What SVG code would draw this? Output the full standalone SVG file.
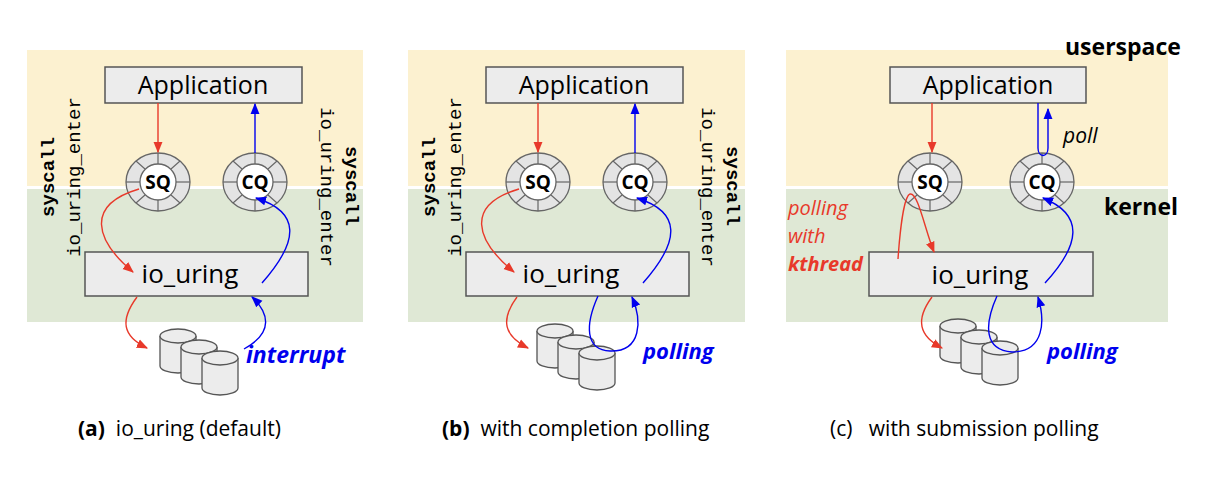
<svg xmlns="http://www.w3.org/2000/svg" xmlns:xlink="http://www.w3.org/1999/xlink" width="1208" height="482" viewBox="0 0 1208 482">
<style>
.box{fill:#ececec;stroke:#555;stroke-width:1.5}
.t{font-family:"Open Sans","Liberation Sans",sans-serif;fill:#000}
.mono{font-family:"Liberation Mono","DejaVu Sans Mono",monospace;font-size:19px}
.r{fill:none;stroke:#e8392a;stroke-width:1.4}
.b{fill:none;stroke:#0000ee;stroke-width:1.4}
.cap{font-family:"Open Sans","Liberation Sans",sans-serif;font-size:21px}
</style>
<defs>
<marker id="ar" viewBox="0 0 10 10" refX="9" refY="5" markerWidth="8" markerHeight="8" orient="auto-start-reverse"><path d="M0,1 L10,5 L0,9 z" fill="#e8392a"/></marker>
<marker id="ab" viewBox="0 0 10 10" refX="9" refY="5" markerWidth="8" markerHeight="8" orient="auto-start-reverse"><path d="M0,1 L10,5 L0,9 z" fill="#0000ee"/></marker>
<g id="ring">
<ellipse cx="0" cy="0" rx="32" ry="29" fill="#e4e4e4" stroke="#666" stroke-width="1.3"/>
<g stroke="#666" stroke-width="1.2">
<line x1="0" y1="-18" x2="0" y2="-29"/><line x1="0" y1="18" x2="0" y2="29"/>
<line x1="-18" y1="0" x2="-32" y2="0"/><line x1="18" y1="0" x2="32" y2="0"/>
<line x1="13" y1="-13" x2="22" y2="-21"/><line x1="-13" y1="-13" x2="-22" y2="-21"/>
<line x1="13" y1="13" x2="22" y2="21"/><line x1="-13" y1="13" x2="-22" y2="21"/>
</g>
<circle cx="0" cy="0" r="18" fill="#fff" stroke="#666" stroke-width="1.3"/>
</g>
<g id="cyl">
<path d="M-18,0 L-18,30 A18,7 0 0 0 18,30 L18,0" fill="#ececec" stroke="#555" stroke-width="1.3"/>
<ellipse cx="0" cy="0" rx="18" ry="7" fill="#ececec" stroke="#555" stroke-width="1.3"/>
</g>
<g id="disks">
<use xlink:href="#cyl" x="0" y="0"/><use xlink:href="#cyl" x="21" y="11"/><use xlink:href="#cyl" x="42" y="22"/>
</g>
</defs>

<g id="bands">
<rect x="27" y="50" width="336" height="136" fill="#fcf1d0"/>
<rect x="27" y="189" width="336" height="133" fill="#dfe8d5"/>
<rect x="408" y="50" width="337" height="136" fill="#fcf1d0"/>
<rect x="408" y="189" width="337" height="133" fill="#dfe8d5"/>
<rect x="786" y="50" width="382" height="136" fill="#fcf1d0"/>
<rect x="786" y="189" width="382" height="133" fill="#dfe8d5"/>
</g>

<!-- Panel a -->
<g id="a-app"><rect class="box" x="105" y="67" width="197" height="36"/><text class="t" x="203" y="94" font-size="25" text-anchor="middle">Application</text></g>
<g id="a-sq"><use xlink:href="#ring" x="158" y="182"/><text class="t" x="158" y="189" font-size="19" font-weight="bold" text-anchor="middle">SQ</text></g>
<g id="a-cq"><use xlink:href="#ring" x="255" y="182"/><text class="t" x="255" y="189" font-size="19" font-weight="bold" text-anchor="middle">CQ</text></g>
<g id="a-io"><rect class="box" x="85" y="252" width="223" height="44"/><text class="t" x="190" y="283" font-size="26" text-anchor="middle">io_uring</text></g>
<g id="a-disks"><use xlink:href="#disks" x="178" y="336"/></g>
<g id="a-labels">
<text class="mono" font-weight="bold" transform="translate(54,177) rotate(-90)" text-anchor="middle">syscall</text>
<text class="mono" transform="translate(80,177) rotate(-90)" text-anchor="middle">io_uring_enter</text>
<text class="mono" font-weight="bold" transform="translate(346,186) rotate(90)" text-anchor="middle">syscall</text>
<text class="mono" transform="translate(321,187) rotate(90)" text-anchor="middle">io_uring_enter</text>
<text class="t" x="246" y="363" font-size="23" font-weight="bold" font-style="italic" style="fill:#0000ee">interrupt</text>
</g>

<!-- Panel b -->
<g id="b-app"><rect class="box" x="486" y="67" width="197" height="36"/><text class="t" x="584" y="94" font-size="25" text-anchor="middle">Application</text></g>
<g id="b-sq"><use xlink:href="#ring" x="538" y="182"/><text class="t" x="538" y="189" font-size="19" font-weight="bold" text-anchor="middle">SQ</text></g>
<g id="b-cq"><use xlink:href="#ring" x="635" y="182"/><text class="t" x="635" y="189" font-size="19" font-weight="bold" text-anchor="middle">CQ</text></g>
<g id="b-io"><rect class="box" x="466" y="252" width="223" height="44"/><text class="t" x="571" y="283" font-size="26" text-anchor="middle">io_uring</text></g>
<g id="b-disks"><use xlink:href="#disks" x="555" y="331"/></g>
<g id="b-labels">
<text class="mono" font-weight="bold" transform="translate(435,177) rotate(-90)" text-anchor="middle">syscall</text>
<text class="mono" transform="translate(461,177) rotate(-90)" text-anchor="middle">io_uring_enter</text>
<text class="mono" font-weight="bold" transform="translate(727,186) rotate(90)" text-anchor="middle">syscall</text>
<text class="mono" transform="translate(702,187) rotate(90)" text-anchor="middle">io_uring_enter</text>
<text class="t" x="643" y="359" font-size="22" font-weight="bold" font-style="italic" style="fill:#0000ee">polling</text>
</g>

<!-- Panel c -->
<g id="c-app"><rect class="box" x="890" y="67" width="196" height="36"/><text class="t" x="988" y="94" font-size="25" text-anchor="middle">Application</text></g>
<g id="c-sq"><use xlink:href="#ring" x="930" y="182"/><text class="t" x="930" y="189" font-size="19" font-weight="bold" text-anchor="middle">SQ</text></g>
<g id="c-cq"><use xlink:href="#ring" x="1042" y="182"/><text class="t" x="1042" y="189" font-size="19" font-weight="bold" text-anchor="middle">CQ</text></g>
<g id="c-io"><rect class="box" x="869" y="252" width="224" height="44"/><text class="t" x="980" y="284" font-size="26" text-anchor="middle">io_uring</text></g>
<g id="c-disks"><use xlink:href="#disks" x="958" y="326"/></g>
<g id="c-labels">
<text class="t" x="1065" y="55" font-size="23" font-weight="bold">userspace</text>
<text class="t" x="1104" y="215" font-size="23" font-weight="bold">kernel</text>
<text class="t" x="1063" y="143" font-size="21" font-style="italic">poll</text>
<text class="t" x="788" y="215" font-size="20" font-style="italic" style="fill:#e8392a">polling</text>
<text class="t" x="788" y="243" font-size="20" font-style="italic" style="fill:#e8392a">with</text>
<text class="t" x="788" y="271" font-size="20" font-weight="bold" font-style="italic" style="fill:#e8392a">kthread</text>
<text class="t" x="1047" y="359" font-size="22" font-weight="bold" font-style="italic" style="fill:#0000ee">polling</text>
</g>

<g id="connectors">
<path class="r" d="M158,103 L158,152" marker-end="url(#ar)"/>
<path class="b" d="M255,153 L255,104" marker-end="url(#ab)"/>
<path class="r" d="M139,189 C85,205 95,240 133,272" marker-end="url(#ar)"/>
<path class="b" d="M262,283 C300,240 300,212 256,198" marker-end="url(#ab)"/>
<path class="r" d="M137,297 C120,320 122,336 147,348" marker-end="url(#ar)"/>
<path class="b" d="M244,349 C275,332 268,312 252,297" marker-end="url(#ab)"/>
<path class="r" d="M538,103 L538,152" marker-end="url(#ar)"/>
<path class="b" d="M635,153 L635,104" marker-end="url(#ab)"/>
<path class="r" d="M519,189 C465,205 475,240 514,272" marker-end="url(#ar)"/>
<path class="b" d="M643,283 C681,240 681,212 637,198" marker-end="url(#ab)"/>
<path class="r" d="M517,297 C500,320 504,336 528,348" marker-end="url(#ar)"/>
<path class="b" d="M598,296 C585,325 585,350 610,351 C642,352 642,320 632,297" marker-end="url(#ab)"/>
<path class="r" d="M932,103 L932,152" marker-end="url(#ar)"/>
<path class="b" d="M1038,103 L1038,148 C1038,158 1048,158 1048,148 L1048,109" marker-end="url(#ab)"/>
<path class="r" d="M898,259 C900,230 904,196 910,194 C918,192 925,230 934,252" marker-end="url(#ar)"/>
<path class="b" d="M1045,283 C1080,245 1085,215 1043,198" marker-end="url(#ab)"/>
<path class="r" d="M932,297 C915,320 919,336 942,348" marker-end="url(#ar)"/>
<path class="b" d="M997,296 C984,325 984,350 1012,352 C1045,352 1045,320 1038,297" marker-end="url(#ab)"/>
</g>

<g id="captions">
<text class="cap" x="78" y="436" xml:space="preserve"><tspan font-weight="bold">(a)</tspan>  io_uring (default)</text>
<text class="cap" x="442" y="436" xml:space="preserve"><tspan font-weight="bold">(b)</tspan>  with completion polling</text>
<text class="cap" x="830" y="436" xml:space="preserve">(c)   with submission polling</text>
</g>
</svg>
